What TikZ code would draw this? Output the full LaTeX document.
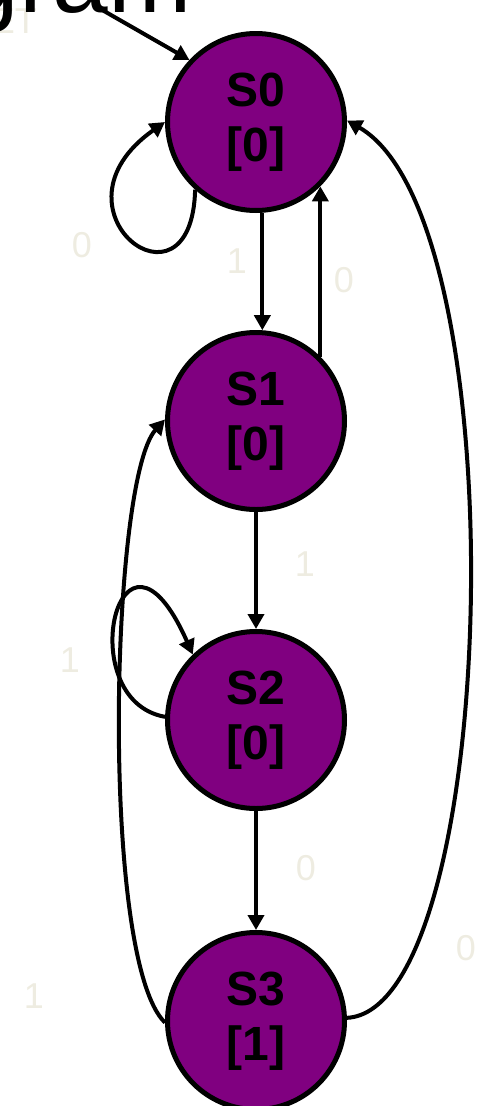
\documentclass[tikz,border=0pt]{standalone}
\usepackage{fontspec}
\setmainfont{Liberation Sans}
\usetikzlibrary{arrows.meta}
\definecolor{beige}{HTML}{EEECE1}
\definecolor{statefill}{HTML}{800080}
\tikzset{
  state/.style={circle, draw=black, line width=5pt, fill=statefill, minimum size=177pt,
    inner sep=0pt, align=center, font=\fontsize{48}{55}\selectfont\bfseries},
  edge/.style={line width=4pt, -{Triangle[length=15pt,width=16pt]}},
  lbl/.style={text=beige, font=\fontsize{36}{40}\selectfont, inner sep=0pt},
}
\begin{document}
\begin{tikzpicture}[x=1pt,y=-1pt]
\useasboundingbox (0,0) rectangle (480,1106);
\clip (0,0) rectangle (480,1106);
% partially visible title and reset label
\node[lbl, anchor=base east] (reset) at (37,33) {RESET};
\node[anchor=base east, inner sep=0pt, font=\fontsize{100}{104}\selectfont] (title) at (192,12) {Diagram};
% states
\node[state] (s0) at (256,122) {S0\\{[0]}};
\node[state] (s1) at (256,421) {S1\\{[0]}};
\node[state] (s2) at (256,720) {S2\\{[0]}};
\node[state] (s3) at (256,1021) {S3\\{[1]}};
% reset arrow
\coordinate (rs) at (97,7);
\draw[edge] (rs) -- (s0.137);
% transitions
\draw[edge] (s0.228) .. controls (192,325) and (40,210) .. (s0.180);
\draw[edge] (s0.274) -- (s1.86);
\draw[edge] (s1.45) -- (s0.315);
\draw[edge] (s1.south) -- (s2.north);
\draw[edge] (s2.178) .. controls (70,700) and (120,490) .. (s2.134);
\draw[edge] (s2.south) -- (s3.north);
\draw[edge] (s3.181) .. controls (100,960) and (110,480) .. (s1.179);
\draw[edge] (s3.2) .. controls (500,1010) and (520,220) .. (s0.1);
% labels
\node[lbl] (l1) at (82,245) {0};
\node[lbl] (l2) at (237,261) {1};
\node[lbl] (l3) at (344,280) {0};
\node[lbl] (l4) at (305,564) {1};
\node[lbl] (l5) at (70,660) {1};
\node[lbl] (l6) at (306,868) {0};
\node[lbl] (l7) at (466,948) {0};
\node[lbl] (l8) at (34,996) {1};
\end{tikzpicture}
\end{document}
